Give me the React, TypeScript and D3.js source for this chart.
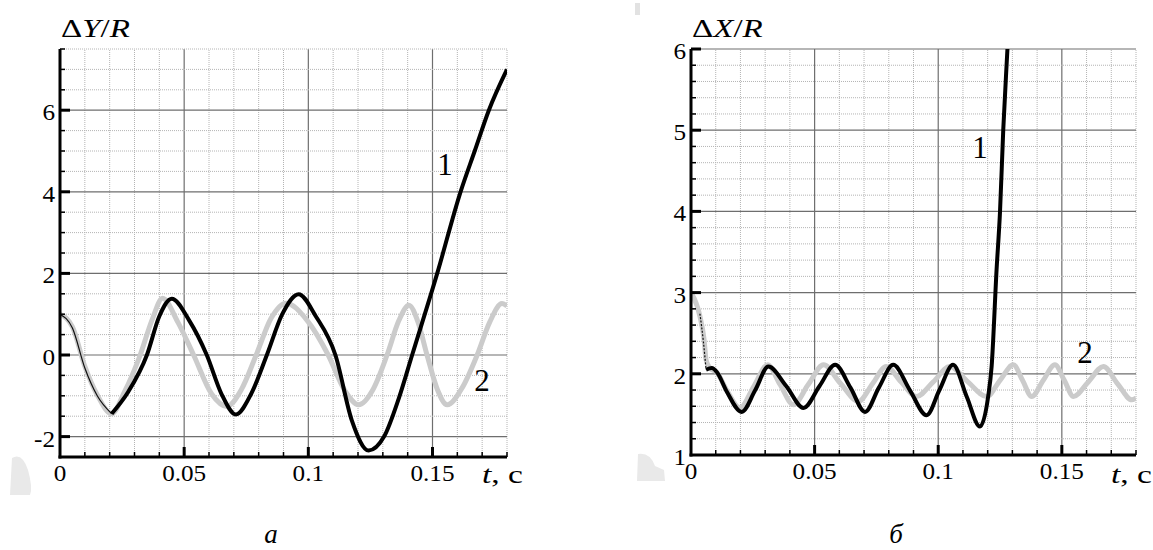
import React, { useEffect, useRef } from "react";
import * as d3 from "d3";

// panel a: ΔY/R vs t
const dyGray = [
  [0, 1.0], [0.005, 0.69], [0.01, -0.28], [0.015, -0.98], [0.0208, -1.44],
  [0.026, -0.9], [0.0323, 0], [0.037, 0.85], [0.0413, 1.39], [0.0475, 0.8],
  [0.0538, 0], [0.061, -0.95], [0.0672, -1.26], [0.073, -0.85], [0.079, 0],
  [0.085, 0.9], [0.091, 1.27], [0.0995, 0.85], [0.108, 0], [0.1145, -0.85],
  [0.1203, -1.22], [0.126, -0.85], [0.1317, 0], [0.1365, 0.85], [0.1405, 1.22],
  [0.1442, 0.8], [0.1478, 0], [0.152, -0.85], [0.1559, -1.22], [0.162, -0.8],
  [0.168, 0], [0.173, 0.8], [0.178, 1.26], [0.18, 1.2],
];
const dyBlackThin = [
  [0, 1.0], [0.005, 0.66], [0.01, -0.32], [0.015, -1.0], [0.0208, -1.44],
];
const dyBlack = [
  [0.0208, -1.44], [0.0275, -0.9], [0.035, 0], [0.04, 0.95], [0.045, 1.38],
  [0.052, 0.85], [0.0591, 0], [0.065, -0.95], [0.0708, -1.46], [0.077, -0.95],
  [0.0833, 0], [0.0895, 1.0], [0.0961, 1.49], [0.103, 0.95], [0.1109, 0],
  [0.1175, -1.6], [0.1243, -2.34], [0.1305, -2.0], [0.1365, -1.05], [0.1418, 0],
  [0.1519, 2], [0.1613, 4], [0.167, 5], [0.1727, 6], [0.18, 7.0],
];
const dyTicks = [-2, 0, 2, 4, 6];

// panel б: ΔX/R vs t
const dxGray = [
  [0, 3.0], [0.0036, 2.71], [0.0053, 2.42], [0.0061, 2.17], [0.0077, 2.07],
  [0.0104, 2.02], [0.0144, 1.8], [0.0198, 1.58], [0.0255, 1.85], [0.031, 2.11],
  [0.036, 1.87], [0.0414, 1.62], [0.0475, 1.87], [0.0536, 2.11], [0.0605, 1.88],
  [0.0677, 1.66], [0.0735, 1.88], [0.079, 2.09], [0.085, 1.9], [0.0912, 1.72],
  [0.098, 1.9], [0.1047, 2.09], [0.112, 1.9], [0.1196, 1.72], [0.125, 1.92],
  [0.1304, 2.11], [0.1341, 1.92], [0.1378, 1.72], [0.1425, 1.92], [0.1472, 2.11],
  [0.151, 1.92], [0.1547, 1.72], [0.1607, 1.9], [0.1668, 2.09], [0.1725, 1.88],
  [0.1783, 1.68], [0.18, 1.7],
];
const dxBlackThin = [[0.0036, 2.74], [0.005, 2.4], [0.0061, 2.05]];
const dxBlack = [
  [0.0061, 2.05], [0.0084, 2.07], [0.0105, 2.02], [0.0145, 1.78], [0.0205, 1.53],
  [0.026, 1.8], [0.0313, 2.09], [0.0385, 1.85], [0.0455, 1.58], [0.052, 1.85],
  [0.0583, 2.11], [0.0645, 1.83], [0.0704, 1.53], [0.076, 1.83], [0.0818, 2.11],
  [0.0885, 1.8], [0.0953, 1.49], [0.1005, 1.8], [0.106, 2.11], [0.1115, 1.72],
  [0.1169, 1.35], [0.1202, 1.72], [0.1216, 2.09], [0.1236, 3.28], [0.125, 4.0],
  [0.1263, 5.0], [0.128, 6.0], [0.129, 6.6],
];
const dxTicks = [1, 2, 3, 4, 5, 6];

const tTicks = [0, 0.05, 0.1, 0.15];
const tLabels = ["0", "0.05", "0.1", "0.15"];

const FONT = "'Liberation Serif', 'Times New Roman', serif";

function drawPanel(svg, o) {
  const x = d3.scaleLinear().domain([0, 0.18]).range([o.left, o.right]);
  const y = d3.scaleLinear().domain(o.yDomain).range([o.bottom, o.top]);
  const g = svg.append("g");

  // grid
  const xMinor = d3.range(1, 19).map((i) => i / 100);
  const yMinor = d3.range(o.yMinorN[0] + 1, o.yMinorN[1] + 1).map((i) => i * o.yMinorStep);
  const isMajX = (v) => Math.abs(v * 20 - Math.round(v * 20)) < 1e-6;
  const isMajY = (v) => o.yTicks.some((t) => Math.abs(t - v) < 1e-6);

  g.selectAll(".gx").data(xMinor).enter().append("line")
    .attr("x1", (d) => x(d)).attr("x2", (d) => x(d))
    .attr("y1", o.bottom).attr("y2", o.top)
    .attr("stroke", (d) => (isMajX(d) ? "#6e6e6e" : "#b4b4b4"))
    .attr("stroke-width", (d) => (isMajX(d) ? 1.2 : 1))
    .attr("stroke-dasharray", (d) => (isMajX(d) ? null : "1,1"));
  g.selectAll(".gy").data(yMinor).enter().append("line")
    .attr("x1", o.left).attr("x2", o.right)
    .attr("y1", (d) => y(d)).attr("y2", (d) => y(d))
    .attr("stroke", (d) => (isMajY(d) ? "#6e6e6e" : "#b4b4b4"))
    .attr("stroke-width", (d) => (isMajY(d) ? 1.2 : 1))
    .attr("stroke-dasharray", (d) => (isMajY(d) ? null : "1,1"));

  // curves
  svg.append("clipPath").attr("id", o.clip).append("rect")
    .attr("x", o.left).attr("y", o.top)
    .attr("width", o.right - o.left).attr("height", o.bottom - o.top);
  const line = d3.line().x((d) => x(d[0])).y((d) => y(d[1])).curve(d3.curveMonotoneX);
  const cg = g.append("g").attr("clip-path", `url(#${o.clip})`);
  cg.append("path").attr("d", line(o.gray)).attr("fill", "none")
    .attr("stroke", "#cbcbcb").attr("stroke-width", 5).attr("stroke-linejoin", "round");
  cg.append("path").attr("d", line(o.blackThin)).attr("fill", "none")
    .attr("stroke", "#111").attr("stroke-width", 1.2)
    .attr("stroke-dasharray", o.thinDash ? "2,1.5" : null);
  cg.append("path").attr("d", line(o.black)).attr("fill", "none")
    .attr("stroke", "#000").attr("stroke-width", 4).attr("stroke-linejoin", "round");

  // axes
  g.append("line").attr("x1", o.left).attr("x2", o.left).attr("y1", o.bottom + 1.5).attr("y2", o.top)
    .attr("stroke", "#000").attr("stroke-width", 3);
  g.append("line").attr("x1", o.left - 1.5).attr("x2", o.right).attr("y1", o.bottom).attr("y2", o.bottom)
    .attr("stroke", "#000").attr("stroke-width", 3);

  // tick marks
  g.selectAll(".tx").data(xMinor).enter().append("line")
    .attr("x1", (d) => x(d)).attr("x2", (d) => x(d))
    .attr("y1", o.bottom).attr("y2", (d) => o.bottom - (isMajX(d) ? 10 : 5))
    .attr("stroke", "#000").attr("stroke-width", (d) => (isMajX(d) ? 3 : 1.5));
  g.selectAll(".ty").data(yMinor).enter().append("line")
    .attr("y1", (d) => y(d)).attr("y2", (d) => y(d))
    .attr("x1", o.left).attr("x2", (d) => o.left + (isMajY(d) ? 10 : 5))
    .attr("stroke", "#000").attr("stroke-width", (d) => (isMajY(d) ? 3 : 1.5));

  // tick labels
  g.selectAll(".lx").data(tTicks).enter().append("text")
    .attr("transform", (d) => `translate(${x(d)},${o.bottom + 24}) scale(1.05,1)`)
    .attr("text-anchor", "middle").attr("font-family", FONT).attr("font-size", 24)
    .text((d, i) => tLabels[i]);
  g.selectAll(".ly").data(o.yTicks).enter().append("text")
    .attr("transform", (d) => `translate(${o.left - 5},${y(d) + 10}) scale(1.05,1)`)
    .attr("text-anchor", "end").attr("font-family", FONT).attr("font-size", 24)
    .text((d) => String(d));

  // axis titles
  const tt = g.append("text").attr("font-family", FONT).attr("font-size", 26)
    .attr("transform", `translate(${o.left + 1},37) scale(1.27,1)`);
  tt.append("tspan").text("Δ");
  tt.append("tspan").attr("font-style", "italic").text(o.titleVar);
  tt.append("tspan").text("/");
  tt.append("tspan").attr("font-style", "italic").text("R");

  const xt = g.append("text").attr("font-family", FONT).attr("font-size", 26)
    .attr("transform", `translate(${o.right - 25},483) scale(1.29,1)`);
  xt.append("tspan").attr("font-style", "italic").text("t");
  xt.append("tspan").text(", с");

  // curve labels
  g.append("text").attr("x", o.lab1[0]).attr("y", o.lab1[1]).attr("text-anchor", "middle")
    .attr("font-family", FONT).attr("font-size", 31).text("1");
  g.append("text").attr("x", o.lab2[0]).attr("y", o.lab2[1]).attr("text-anchor", "middle")
    .attr("font-family", FONT).attr("font-size", 31).text("2");

  // sub caption
  g.append("text").attr("x", o.cap).attr("y", 543).attr("text-anchor", "middle")
    .attr("font-family", FONT).attr("font-size", 27).attr("font-style", "italic").text(o.capText);
}

export default function App() {
  const ref = useRef(null);
  useEffect(() => {
    const svg = d3.select(ref.current);
    svg.selectAll("*").remove();

    // faint scan marks
    svg.append("path").attr("d", "M12,458 Q22,452 28,470 Q33,488 30,495 L10,495 Z").attr("fill", "#e9e9e9");
    svg.append("path").attr("d", "M638,454 Q650,452 655,466 L664,470 L665,481 L637,481 Z").attr("fill", "#e9e9e9");
    svg.append("rect").attr("x", 635).attr("y", 3).attr("width", 5).attr("height", 12).attr("fill", "#e2e2e2");

    drawPanel(svg, {
      left: 60, right: 507, top: 49, bottom: 457,
      yDomain: [-2.5, 7.5], yMinorN: [-5, 15], yMinorStep: 0.5, yTicks: dyTicks,
      gray: dyGray, blackThin: dyBlackThin, black: dyBlack, thinDash: false,
      titleVar: "Y", lab1: [445, 175], lab2: [482, 391], cap: 271, capText: "a", clip: "clipA",
    });
    drawPanel(svg, {
      left: 691, right: 1136, top: 49, bottom: 455,
      yDomain: [1, 6], yMinorN: [5, 30], yMinorStep: 0.2, yTicks: dxTicks,
      gray: dxGray, blackThin: dxBlackThin, black: dxBlack, thinDash: true,
      titleVar: "X", lab1: [980, 158], lab2: [1085, 363], cap: 896, capText: "б", clip: "clipB",
    });
  }, []);

  return (
    <svg ref={ref} width={1153} height={550}
      style={{ position: "absolute", left: 0, top: 0, background: "#fff" }} />
  );
}
